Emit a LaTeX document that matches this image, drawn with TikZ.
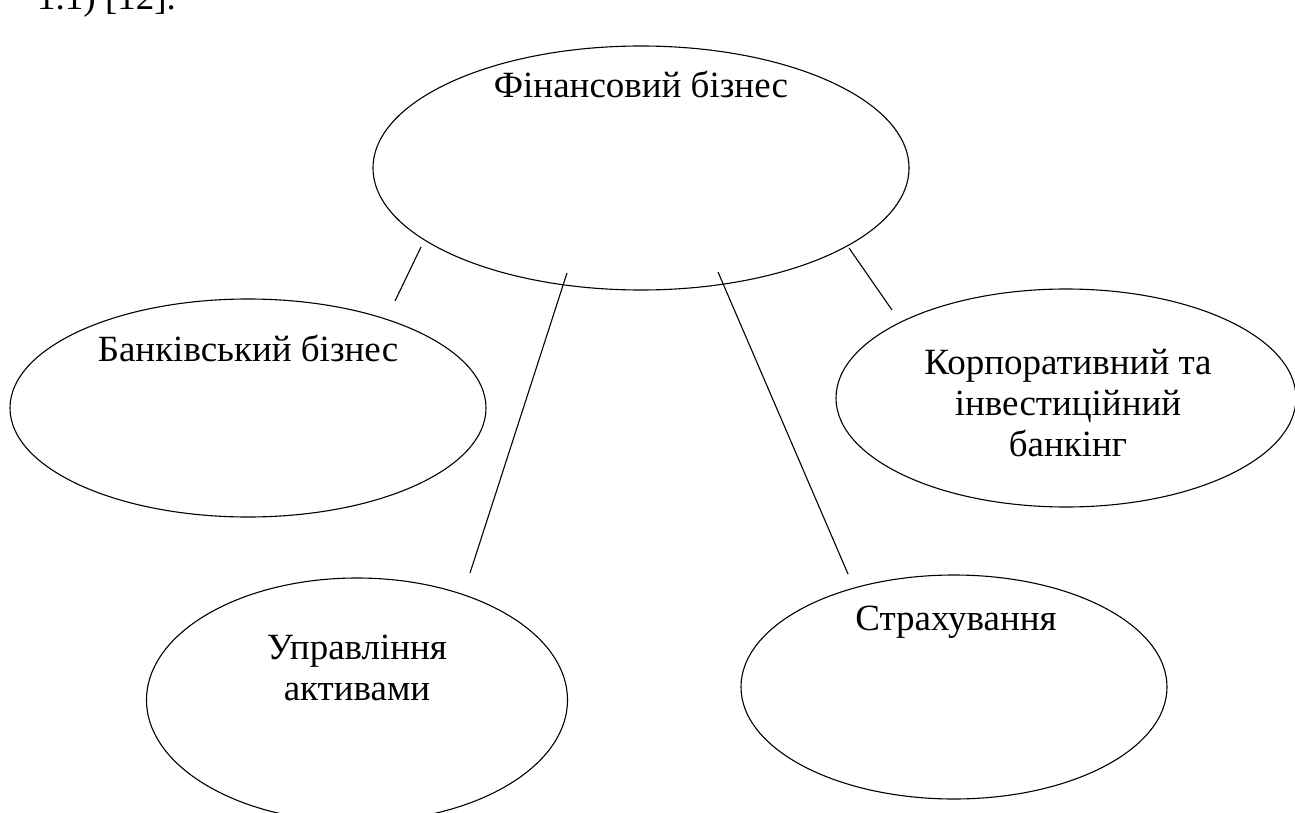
\documentclass[tikz,border=0pt]{standalone}
\usepackage{fontspec}
\setmainfont{Liberation Serif}
\usetikzlibrary{shapes.geometric}
\begin{document}
\begin{tikzpicture}[x=1pt,y=-1pt,
  ell/.style={draw=black,line width=1.1pt,ellipse,inner sep=0pt},
  txt/.style={font=\fontsize{37}{41}\selectfont,align=center,inner sep=0pt},
  conn/.style={draw=black,line width=1.1pt}]
\useasboundingbox (0,0) rectangle (1295,813);
\node[ell,minimum width=536,minimum height=244] (fin) at (641,168) {};
\node[ell,minimum width=476,minimum height=218] (bank) at (248,408) {};
\node[ell,minimum width=460,minimum height=218] (corp) at (1066,398) {};
\node[ell,minimum width=421,minimum height=244] (asset) at (357,700) {};
\node[ell,minimum width=426,minimum height=224] (ins) at (954,687) {};
\node[txt] (tfin) at (641,84) {Фінансовий бізнес};
\node[txt] (tbank) at (248,348) {Банківський бізнес};
\node[txt] (tcorp) at (1068,403) {Корпоративний та\\інвестиційний\\банкінг};
\node[txt] (tasset) at (357,668) {Управління\\активами};
\node[txt] (tins) at (956,622) {Страхування};
\node[font=\fontsize{37}{41}\selectfont,anchor=base west,inner sep=0pt] (cap) at (37,10) {1.1) [12].};
\coordinate (a1) at (421,247);
\coordinate (a2) at (395,301);
\coordinate (b1) at (567,273);
\coordinate (b2) at (470,573);
\coordinate (c1) at (718,272);
\coordinate (c2) at (848,574);
\coordinate (d1) at (849,248);
\coordinate (d2) at (892,310);
\draw[conn] (a1) -- (a2);
\draw[conn] (b1) -- (b2);
\draw[conn] (c1) -- (c2);
\draw[conn] (d1) -- (d2);
\end{tikzpicture}
\end{document}
